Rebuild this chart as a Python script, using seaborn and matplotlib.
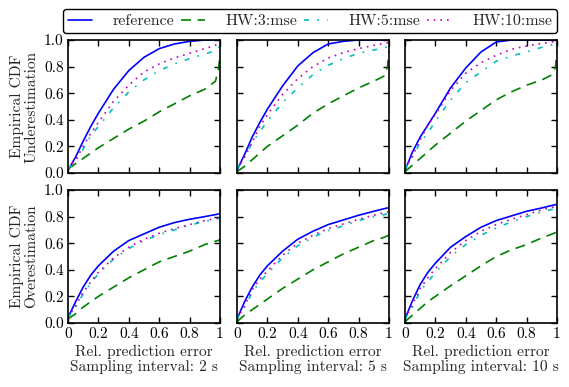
import numpy as np
import pandas as pd
import matplotlib
matplotlib.use("Agg")
import matplotlib.pyplot as plt
import seaborn as sns

# ---- data ----
X = [0, 0.05, 0.1, 0.15, 0.2, 0.3, 0.4, 0.5, 0.6, 0.7, 0.8, 0.9, 0.97, 0.99, 1.0]
series_names = ["reference", "HW:3:mse", "HW:5:mse", "HW:10:mse"]
intervals = ["2 s", "5 s", "10 s"]
row_labels = ["Empirical CDF\nUnderestimation", "Empirical CDF\nOverestimation"]

# Underestimation, 2 s
under_2_ref  = [0.02, 0.12, 0.24, 0.35, 0.45, 0.63, 0.77, 0.87, 0.935, 0.97, 0.99, 1.0, 1.0, 1.0, 1.0]
under_2_hw3  = [0.03, 0.07, 0.11, 0.15, 0.19, 0.26, 0.33, 0.39, 0.46, 0.52, 0.58, 0.63, 0.69, 0.78, 0.88]
under_2_hw5  = [0.03, 0.09, 0.18, 0.28, 0.35, 0.49, 0.61, 0.70, 0.77, 0.82, 0.86, 0.895, 0.92, 0.93, 0.97]
under_2_hw10 = [0.03, 0.10, 0.20, 0.30, 0.38, 0.54, 0.66, 0.76, 0.82, 0.865, 0.90, 0.935, 0.96, 0.97, 0.98]
# Underestimation, 5 s
under_5_ref  = [0.02, 0.14, 0.27, 0.38, 0.48, 0.655, 0.805, 0.905, 0.97, 0.99, 1.0, 1.0, 1.0, 1.0, 1.0]
under_5_hw3  = [0.01, 0.05, 0.10, 0.15, 0.20, 0.28, 0.36, 0.45, 0.52, 0.58, 0.64, 0.69, 0.73, 0.80, 0.92]
under_5_hw5  = [0.03, 0.12, 0.23, 0.31, 0.39, 0.53, 0.64, 0.74, 0.81, 0.86, 0.90, 0.925, 0.94, 0.95, 0.99]
under_5_hw10 = [0.03, 0.12, 0.23, 0.35, 0.44, 0.59, 0.71, 0.80, 0.865, 0.905, 0.935, 0.96, 0.975, 0.98, 0.99]
# Underestimation, 10 s
under_10_ref  = [0.02, 0.16, 0.27, 0.36, 0.45, 0.64, 0.79, 0.91, 0.985, 1.0, 1.0, 1.0, 1.0, 1.0, 1.0]
under_10_hw3  = [0.01, 0.06, 0.11, 0.16, 0.21, 0.30, 0.39, 0.47, 0.55, 0.61, 0.66, 0.70, 0.74, 0.80, 0.92]
under_10_hw5  = [0.03, 0.12, 0.23, 0.30, 0.39, 0.55, 0.68, 0.76, 0.84, 0.88, 0.91, 0.945, 0.965, 0.97, 0.98]
under_10_hw10 = [0.03, 0.13, 0.25, 0.36, 0.44, 0.62, 0.75, 0.83, 0.885, 0.93, 0.955, 0.975, 0.985, 0.99, 0.99]
# Overestimation, 2 s
over_2_ref  = [0.04, 0.16, 0.27, 0.36, 0.43, 0.54, 0.62, 0.67, 0.72, 0.755, 0.78, 0.80, 0.815, 0.82, 0.82]
over_2_hw3  = [0.03, 0.07, 0.12, 0.16, 0.20, 0.27, 0.34, 0.40, 0.46, 0.50, 0.54, 0.59, 0.615, 0.62, 0.63]
over_2_hw5  = [0.04, 0.12, 0.22, 0.30, 0.37, 0.48, 0.56, 0.62, 0.665, 0.70, 0.735, 0.765, 0.78, 0.785, 0.79]
over_2_hw10 = [0.04, 0.13, 0.23, 0.31, 0.38, 0.49, 0.57, 0.63, 0.675, 0.71, 0.74, 0.77, 0.785, 0.79, 0.79]
# Overestimation, 5 s
over_5_ref  = [0.03, 0.16, 0.27, 0.36, 0.43, 0.54, 0.63, 0.69, 0.74, 0.775, 0.81, 0.84, 0.86, 0.865, 0.87]
over_5_hw3  = [0.01, 0.06, 0.10, 0.14, 0.18, 0.26, 0.33, 0.40, 0.46, 0.52, 0.57, 0.62, 0.645, 0.655, 0.66]
over_5_hw5  = [0.03, 0.12, 0.23, 0.31, 0.37, 0.49, 0.58, 0.645, 0.695, 0.73, 0.77, 0.80, 0.815, 0.82, 0.82]
over_5_hw10 = [0.03, 0.13, 0.25, 0.33, 0.39, 0.51, 0.60, 0.66, 0.71, 0.745, 0.78, 0.81, 0.83, 0.835, 0.835]
# Overestimation, 10 s
over_10_ref  = [0.03, 0.17, 0.29, 0.38, 0.45, 0.57, 0.65, 0.72, 0.77, 0.805, 0.84, 0.865, 0.885, 0.89, 0.89]
over_10_hw3  = [0.01, 0.06, 0.11, 0.16, 0.20, 0.28, 0.355, 0.43, 0.50, 0.55, 0.59, 0.64, 0.67, 0.68, 0.685]
over_10_hw5  = [0.03, 0.12, 0.24, 0.31, 0.38, 0.50, 0.59, 0.66, 0.715, 0.76, 0.80, 0.835, 0.855, 0.86, 0.86]
over_10_hw10 = [0.03, 0.14, 0.26, 0.34, 0.41, 0.53, 0.62, 0.69, 0.74, 0.78, 0.815, 0.85, 0.87, 0.875, 0.88]

x_ticks = [0, 0.2, 0.4, 0.6, 0.8, 1.0]
x_ticklabels = ["0", "0.2", "0.4", "0.6", "0.8", "1"]
y_ticks = [0.0, 0.2, 0.4, 0.6, 0.8, 1.0]
y_ticklabels = ["0.0", "0.2", "0.4", "0.6", "0.8", "1.0"]

panels = [
    [[under_2_ref, under_2_hw3, under_2_hw5, under_2_hw10],
     [under_5_ref, under_5_hw3, under_5_hw5, under_5_hw10],
     [under_10_ref, under_10_hw3, under_10_hw5, under_10_hw10]],
    [[over_2_ref, over_2_hw3, over_2_hw5, over_2_hw10],
     [over_5_ref, over_5_hw3, over_5_hw5, over_5_hw10],
     [over_10_ref, over_10_hw3, over_10_hw5, over_10_hw10]],
]

# ---- style ----
sns.set_style("ticks")
plt.rcParams["font.family"] = ["serif"]
plt.rcParams["font.serif"] = ["cmr10", "DejaVu Serif"]
plt.rcParams["mathtext.fontset"] = "cm"
plt.rcParams["axes.formatter.use_mathtext"] = True
FS = 11.1
plt.rcParams["font.size"] = FS

colors = {"reference": "#0000ff", "HW:3:mse": "#008000",
          "HW:5:mse": "#00bfbf", "HW:10:mse": "#bf00bf"}
styles = {"reference": "-", "HW:3:mse": (0, (6, 4)),
          "HW:5:mse": (0, (3, 5, 1, 5)), "HW:10:mse": (0, (1, 3))}

W, H = 569, 387
fig = plt.figure(figsize=(W / 100, H / 100), dpi=100)

col_x = [68, 237, 405]
col_w = 152
row_y = [40, 190]
row_h = 133

for r in range(2):
    for c in range(3):
        ax = fig.add_axes([col_x[c] / W, 1 - (row_y[r] + row_h) / H, col_w / W, row_h / H])
        for name, vals in zip(series_names, panels[r][c]):
            df = pd.DataFrame({"x": X, "y": vals})
            sns.lineplot(data=df, x="x", y="y", ax=ax, color=colors[name],
                         linestyle=styles[name], linewidth=1.2, label=name,
                         legend=False)
        ax.set_xlim(0, 1)
        ax.set_ylim(0, 1)
        ax.set_xticks(x_ticks)
        ax.set_yticks(y_ticks)
        ax.tick_params(direction="in", length=4.5, width=1, top=True, right=True,
                       colors="black", labelsize=FS, pad=3)
        if r == 1:
            ax.set_xticklabels(x_ticklabels)
            ax.set_xlabel("Rel. prediction error\nSampling interval: " + intervals[c],
                          fontsize=FS, linespacing=1.05, labelpad=3)
        else:
            ax.set_xticklabels([])
            ax.set_xlabel("")
        if c == 0:
            ax.set_yticklabels(y_ticklabels)
            ax.set_ylabel(row_labels[r], fontsize=FS, linespacing=1.05, labelpad=4)
        else:
            ax.set_yticklabels([])
            ax.set_ylabel("")
        for s in ax.spines.values():
            s.set_visible(True)
            s.set_color("black")
            s.set_linewidth(1.2)
        if r == 0 and c == 0:
            handles, labels = ax.get_legend_handles_labels()

leg = fig.legend(handles, labels, ncol=4, loc="lower left",
                 bbox_to_anchor=(63 / W, 1 - 33 / H, 494 / W, 25 / H),
                 mode="expand", borderaxespad=0, fontsize=FS + 0.4,
                 frameon=True, fancybox=True, handlelength=1.5,
                 columnspacing=1.0, handletextpad=1.3, borderpad=0.3)
leg.get_frame().set_edgecolor("black")
leg.get_frame().set_linewidth(1.0)
leg.get_frame().set_alpha(1)

fig.savefig("out.png", dpi=100)
